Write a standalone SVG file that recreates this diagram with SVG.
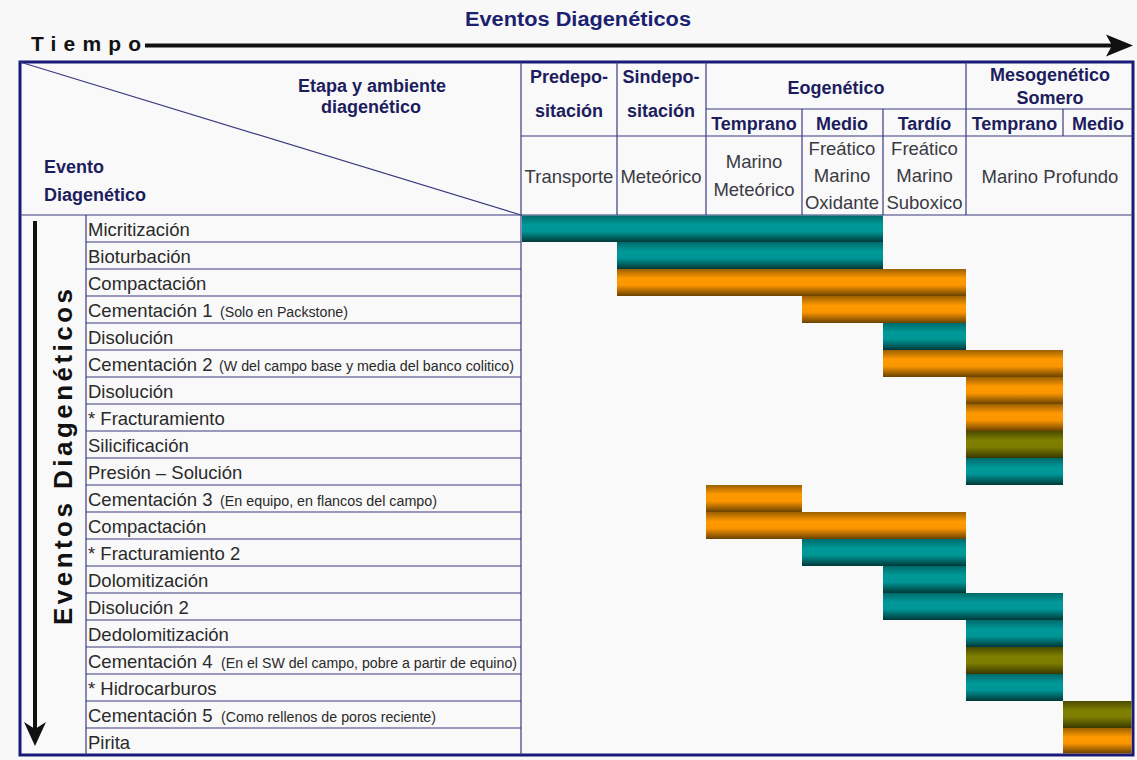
<svg xmlns="http://www.w3.org/2000/svg" width="1137" height="760" viewBox="0 0 1137 760">
<defs>
<linearGradient id="gTeal" x1="0" y1="0" x2="0" y2="1">
<stop offset="0" stop-color="#006a6a"/><stop offset="0.35" stop-color="#009999"/><stop offset="0.6" stop-color="#009696"/><stop offset="1" stop-color="#003838"/>
</linearGradient>
<linearGradient id="gOrange" x1="0" y1="0" x2="0" y2="1">
<stop offset="0" stop-color="#9a6000"/><stop offset="0.35" stop-color="#ff9900"/><stop offset="0.6" stop-color="#fb9600"/><stop offset="1" stop-color="#6a4200"/>
</linearGradient>
<linearGradient id="gOlive" x1="0" y1="0" x2="0" y2="1">
<stop offset="0" stop-color="#4a4a00"/><stop offset="0.35" stop-color="#808000"/><stop offset="0.6" stop-color="#7c7c00"/><stop offset="1" stop-color="#383800"/>
</linearGradient>
<style>
.hd{font-family:"Liberation Sans",Arial,sans-serif;font-weight:bold;font-size:18px;fill:#1d1d5e;text-anchor:middle}
.hl{font-family:"Liberation Sans",Arial,sans-serif;font-weight:bold;font-size:18px;fill:#1d1d5e}
.env{font-family:"Liberation Sans",Arial,sans-serif;font-size:18.5px;fill:#3a3a44;text-anchor:middle}
.lbl{font-family:"Liberation Sans",Arial,sans-serif;font-size:18.5px;fill:#2a2a2a}
.sm{font-family:"Liberation Sans",Arial,sans-serif;font-size:14px;fill:#2a2a2a}
.grid{stroke:#3a3a80;stroke-width:1.2;fill:none}
.teal{fill:url(#gTeal)}
.orange{fill:url(#gOrange)}
.olive{fill:url(#gOlive)}
</style>
</defs>
<rect x="0" y="0" width="1137" height="760" fill="#f8f8f8"/>

<g id="table-grid">
<rect x="20" y="62" width="1113" height="693" fill="#f9f9f9" stroke="#1a1a7a" stroke-width="3"/>
<line class="grid" x1="20" y1="62" x2="521" y2="215"/>
<line class="grid" x1="521" y1="62" x2="521" y2="755"/>
<line class="grid" x1="617" y1="62" x2="617" y2="215"/>
<line class="grid" x1="706" y1="62" x2="706" y2="215"/>
<line class="grid" x1="966" y1="62" x2="966" y2="215"/>
<line class="grid" x1="802" y1="109" x2="802" y2="215"/>
<line class="grid" x1="883" y1="109" x2="883" y2="215"/>
<line class="grid" x1="1063" y1="109" x2="1063" y2="136"/>
<line class="grid" x1="706" y1="109" x2="1133" y2="109"/>
<line class="grid" x1="521" y1="136" x2="1133" y2="136"/>
<line class="grid" x1="20" y1="215" x2="1133" y2="215"/>
<line class="grid" x1="86" y1="215" x2="86" y2="755"/>
<line class="grid" x1="86" y1="242" x2="521" y2="242"/>
<line class="grid" x1="86" y1="269" x2="521" y2="269"/>
<line class="grid" x1="86" y1="296" x2="521" y2="296"/>
<line class="grid" x1="86" y1="323" x2="521" y2="323"/>
<line class="grid" x1="86" y1="350" x2="521" y2="350"/>
<line class="grid" x1="86" y1="377" x2="521" y2="377"/>
<line class="grid" x1="86" y1="404" x2="521" y2="404"/>
<line class="grid" x1="86" y1="431" x2="521" y2="431"/>
<line class="grid" x1="86" y1="458" x2="521" y2="458"/>
<line class="grid" x1="86" y1="485" x2="521" y2="485"/>
<line class="grid" x1="86" y1="512" x2="521" y2="512"/>
<line class="grid" x1="86" y1="539" x2="521" y2="539"/>
<line class="grid" x1="86" y1="566" x2="521" y2="566"/>
<line class="grid" x1="86" y1="593" x2="521" y2="593"/>
<line class="grid" x1="86" y1="620" x2="521" y2="620"/>
<line class="grid" x1="86" y1="647" x2="521" y2="647"/>
<line class="grid" x1="86" y1="674" x2="521" y2="674"/>
<line class="grid" x1="86" y1="701" x2="521" y2="701"/>
<line class="grid" x1="86" y1="728" x2="521" y2="728"/>
</g>

<g id="title">
<text x="578" y="26" font-family="Liberation Sans, Arial, sans-serif" font-weight="bold" font-size="20" fill="#1a2270" text-anchor="middle" textLength="226" lengthAdjust="spacingAndGlyphs">Eventos Diagenéticos</text>
<text x="31" y="51" font-family="Liberation Sans, Arial, sans-serif" font-weight="bold" font-size="21" fill="#111" textLength="110" lengthAdjust="spacing">Tiempo</text>
<text transform="translate(72,457) rotate(-90)" font-family="Liberation Sans, Arial, sans-serif" font-weight="bold" font-size="26" fill="#111" text-anchor="middle" textLength="336" lengthAdjust="spacing">Eventos Diagenéticos</text>
</g>

<g id="connectors">
<line x1="145" y1="45.5" x2="1112" y2="45.5" stroke="#111" stroke-width="4"/>
<polygon points="1133,45.5 1106,34.5 1112,45.5 1106,56.5" fill="#111"/>
<line x1="35" y1="221" x2="35" y2="732" stroke="#111" stroke-width="4"/>
<polygon points="35,746 24,722 35,729 46,722" fill="#111"/>
</g>

<g id="header-corner">
<text class="hd" x="372" y="92">Etapa y ambiente</text>
<text class="hd" x="371" y="113">diagenético</text>
<text class="hl" x="44" y="173">Evento</text>
<text class="hl" x="44" y="201">Diagenético</text>
</g>
<g id="h-predepo">
<text class="hd" x="569" y="83">Predepo-</text>
<text class="hd" x="569" y="117">sitación</text>
<text class="env" x="569" y="183">Transporte</text>
</g>
<g id="h-sindepo">
<text class="hd" x="661" y="83">Sindepo-</text>
<text class="hd" x="661" y="117">sitación</text>
<text class="env" x="661" y="183">Meteórico</text>
</g>
<g id="h-eogenetico">
<text class="hd" x="836" y="94">Eogenético</text>
</g>
<g id="h-eo-temprano">
<text class="hd" x="754" y="130">Temprano</text>
<text class="env" x="754" y="168">Marino</text>
<text class="env" x="754" y="196">Meteórico</text>
</g>
<g id="h-eo-medio">
<text class="hd" x="842" y="130">Medio</text>
<text class="env" x="842" y="155">Freático</text>
<text class="env" x="842" y="182">Marino</text>
<text class="env" x="842" y="209">Oxidante</text>
</g>
<g id="h-eo-tardio">
<text class="hd" x="924.5" y="130">Tardío</text>
<text class="env" x="924.5" y="155">Freático</text>
<text class="env" x="924.5" y="182">Marino</text>
<text class="env" x="924.5" y="209">Suboxico</text>
</g>
<g id="h-mesogenetico">
<text class="hd" x="1050" y="81">Mesogenético</text>
<text class="hd" x="1050" y="104">Somero</text>
<text class="env" x="1050" y="183">Marino Profundo</text>
</g>
<g id="h-meso-temprano"><text class="hd" x="1014.5" y="130">Temprano</text></g>
<g id="h-meso-medio"><text class="hd" x="1098" y="130">Medio</text></g>

<g id="r01"><text class="lbl" x="88" y="236">Micritización</text><rect class="teal" x="522" y="215.5" width="361" height="26.5"/></g>
<g id="r02"><text class="lbl" x="88" y="263">Bioturbación</text><rect class="teal" x="617" y="242" width="266" height="27"/></g>
<g id="r03"><text class="lbl" x="88" y="290">Compactación</text><rect class="orange" x="617" y="269" width="349" height="27"/></g>
<g id="r04"><text class="lbl" x="88" y="317">Cementación 1</text><text class="sm" x="220" y="317" textLength="128" lengthAdjust="spacingAndGlyphs">(Solo en Packstone)</text><rect class="orange" x="802" y="296" width="164" height="27"/></g>
<g id="r05"><text class="lbl" x="88" y="344">Disolución</text><rect class="teal" x="883" y="323" width="83" height="27"/></g>
<g id="r06"><text class="lbl" x="88" y="371">Cementación 2</text><text class="sm" x="219" y="371" textLength="295" lengthAdjust="spacingAndGlyphs">(W del campo base y media del banco colitico)</text><rect class="orange" x="883" y="350" width="180" height="27"/></g>
<g id="r07"><text class="lbl" x="88" y="398">Disolución</text><rect class="orange" x="966" y="377" width="97" height="27"/></g>
<g id="r08"><text class="lbl" x="88" y="425">* Fracturamiento</text><rect class="orange" x="966" y="404" width="97" height="27"/></g>
<g id="r09"><text class="lbl" x="88" y="452">Silicificación</text><rect class="olive" x="966" y="431" width="97" height="27"/></g>
<g id="r10"><text class="lbl" x="88" y="479">Presión – Solución</text><rect class="teal" x="966" y="458" width="97" height="27"/></g>
<g id="r11"><text class="lbl" x="88" y="506">Cementación 3</text><text class="sm" x="220" y="506" textLength="217" lengthAdjust="spacingAndGlyphs">(En equipo, en flancos del campo)</text><rect class="orange" x="706" y="485" width="96" height="27"/></g>
<g id="r12"><text class="lbl" x="88" y="533">Compactación</text><rect class="orange" x="706" y="512" width="260" height="27"/></g>
<g id="r13"><text class="lbl" x="88" y="560">* Fracturamiento 2</text><rect class="teal" x="802" y="539" width="164" height="27"/></g>
<g id="r14"><text class="lbl" x="88" y="587">Dolomitización</text><rect class="teal" x="883" y="566" width="83" height="27"/></g>
<g id="r15"><text class="lbl" x="88" y="614">Disolución 2</text><rect class="teal" x="883" y="593" width="180" height="27"/></g>
<g id="r16"><text class="lbl" x="88" y="641">Dedolomitización</text><rect class="teal" x="966" y="620" width="97" height="27"/></g>
<g id="r17"><text class="lbl" x="88" y="668">Cementación 4</text><text class="sm" x="221" y="668" textLength="296" lengthAdjust="spacingAndGlyphs">(En el SW del campo, pobre a partir de equino)</text><rect class="olive" x="966" y="647" width="97" height="27"/></g>
<g id="r18"><text class="lbl" x="88" y="695">* Hidrocarburos</text><rect class="teal" x="966" y="674" width="97" height="27"/></g>
<g id="r19"><text class="lbl" x="88" y="722">Cementación 5</text><text class="sm" x="221" y="722" textLength="215" lengthAdjust="spacingAndGlyphs">(Como rellenos de poros reciente)</text><rect class="olive" x="1063" y="701" width="68.5" height="27"/></g>
<g id="r20"><text class="lbl" x="88" y="749">Pirita</text><rect class="orange" x="1063" y="728" width="68.5" height="25.5"/></g>
</svg>
